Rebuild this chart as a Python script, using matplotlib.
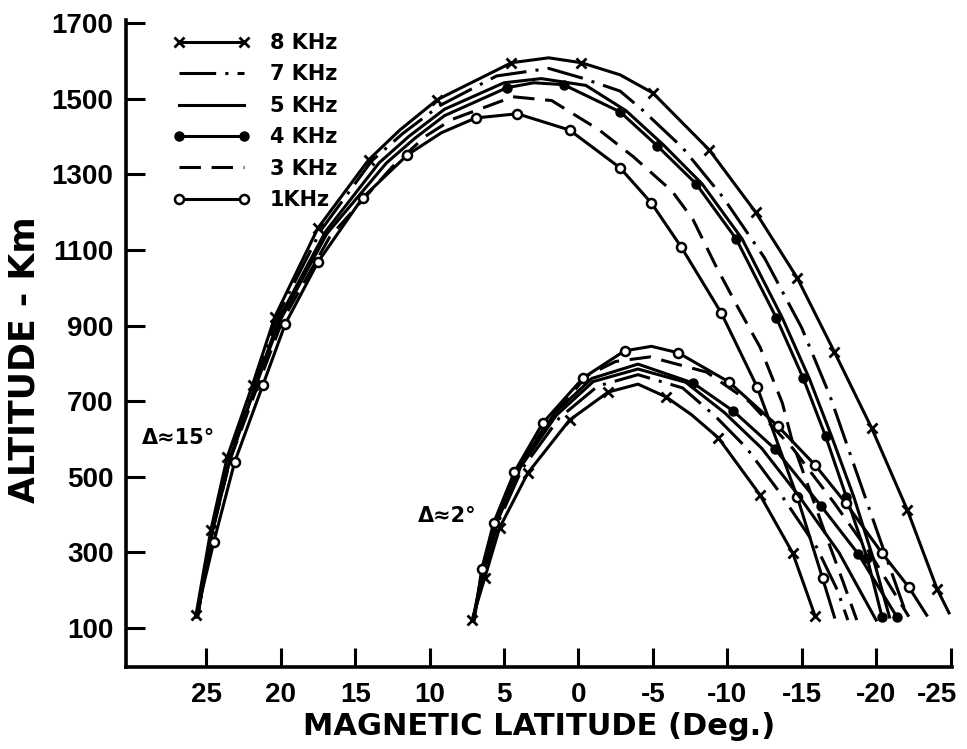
import matplotlib.pyplot as plt
from matplotlib.lines import Line2D
from matplotlib.transforms import ScaledTranslation

plt.rcParams['axes.unicode_minus'] = False

# ---- Δ≈15° family (big arcs) : magnetic latitude (deg), altitude (km)
big8_lat = [25.7, 24.7, 23.6, 21.9, 20.4, 17.5, 14.1, 12.0, 9.5, 4.5, 2.0, -0.2, -2.8, -5.0,
            -8.8, -11.9, -14.7, -17.2, -19.7, -22.1, -24.1, -24.9]
big8_alt = [134, 359, 552, 743, 923, 1158, 1338, 1417, 1497, 1595, 1608, 1595, 1563, 1515,
            1364, 1200, 1026, 830, 629, 412, 203, 140]
big8_mk = [0, 1, 2, 3, 4, 5, 6, 8, 9, 11, 13, 14, 15, 16, 17, 18, 19, 20]

big7_lat = [25.6, 24.6, 23.5, 21.8, 20.3, 17.3, 13.9, 11.8, 9.3, 5.5, 2.0, -0.2, -2.8, -4.3,
            -7.0, -9.7, -12.5, -15.0, -16.9, -18.4, -20.2, -22.0]
big7_alt = [132, 358, 550, 741, 920, 1152, 1335, 1408, 1482, 1560, 1580, 1555, 1520, 1470,
            1370, 1240, 1079, 894, 714, 544, 341, 140]

big5_lat = [25.6, 24.6, 23.4, 21.7, 20.1, 17.0, 13.4, 11.4, 9.0, 5.0, 2.5, -0.5, -3.2, -5.7,
            -8.3, -11.0, -13.7, -15.5, -17.0, -18.5, -19.8, -20.9]
big5_alt = [130, 358, 550, 741, 920, 1148, 1330, 1400, 1472, 1542, 1553, 1535, 1468, 1378,
            1275, 1129, 920, 761, 608, 447, 285, 129]

big4_lat = [25.6, 24.6, 23.4, 21.7, 20.0, 16.9, 12.9, 11.0, 9.0, 4.8, 3.0, 1.0, -2.8, -5.3,
            -7.9, -10.6, -13.3, -15.1, -16.6, -18.0, -19.4, -20.4]
big4_alt = [130, 356, 548, 739, 917, 1143, 1330, 1395, 1455, 1529, 1542, 1537, 1465, 1375,
            1275, 1129, 920, 761, 608, 447, 285, 129]
big4_mk = [9, 11, 12, 13, 14, 15, 16, 17, 18, 19, 20, 21]

big3_lat = [25.6, 24.6, 23.4, 21.6, 19.9, 16.7, 12.5, 10.3, 8.5, 4.4, 1.8, -1.4, -3.7, -6.3,
            -7.7, -9.2, -10.7, -12.2, -13.7, -14.4, -16.5, -17.8, -18.7]
big3_alt = [128, 353, 546, 736, 912, 1135, 1320, 1400, 1445, 1505, 1495, 1417, 1346, 1255,
            1180, 1060, 949, 843, 695, 589, 359, 220, 121]

big1_lat = [25.7, 24.5, 23.1, 21.2, 19.7, 17.5, 14.5, 11.5, 9.2, 6.9, 4.1, 0.6, -2.8, -4.9,
            -6.9, -9.6, -12.0, -14.7, -16.4, -17.2]
big1_alt = [129, 328, 539, 743, 904, 1068, 1238, 1351, 1410, 1449, 1460, 1417, 1317, 1224,
            1108, 933, 738, 447, 232, 129]
big1_mk = [1, 2, 3, 4, 5, 6, 7, 9, 10, 11, 12, 13, 14, 15, 16, 17, 18]

# ---- Δ≈2° family (small arcs)
sm8_lat = [7.15, 6.3, 5.3, 3.4, 0.6, -2.0, -4.0, -5.9, -7.6, -9.4, -12.2, -14.4, -15.9]
sm8_alt = [121, 232, 365, 510, 650, 724, 745, 711, 664, 603, 452, 298, 132]
sm8_mk = [0, 1, 2, 3, 4, 5, 7, 9, 10, 11, 12]

sm7_lat = [7.1, 6.35, 5.45, 3.8, 1.3, -1.3, -4.0, -7.0, -9.2, -11.3, -13.4, -16.0, -17.4, -18.1]
sm7_alt = [121, 240, 375, 520, 655, 740, 770, 735, 660, 576, 465, 314, 200, 121]

sm5_lat = [7.1, 6.4, 5.5, 3.9, 1.5, -1.0, -4.0, -7.2, -9.8, -12.3, -14.8, -17.5, -20.0]
sm5_alt = [121, 245, 378, 525, 662, 752, 785, 750, 670, 576, 450, 300, 121]

sm4_lat = [7.1, 6.45, 5.55, 4.0, 1.6, -0.9, -4.0, -7.7, -10.4, -13.2, -16.3, -18.8, -21.4]
sm4_alt = [121, 250, 380, 528, 668, 760, 798, 748, 674, 574, 423, 296, 129]
sm4_mk = [7, 8, 9, 10, 11, 12]

sm3_lat = [7.05, 6.45, 5.6, 4.1, 2.0, -0.6, -2.5, -4.8, -8.6, -11.5, -14.4, -17.2, -19.6, -22.2]
sm3_alt = [121, 252, 380, 520, 650, 768, 805, 817, 777, 698, 575, 430, 297, 130]

sm1_lat = [7.0, 6.5, 5.7, 4.3, 2.4, -0.3, -3.1, -4.9, -6.7, -10.1, -13.4, -15.9, -17.95,
           -20.4, -22.2, -23.4]
sm1_alt = [121, 256, 378, 513, 642, 761, 833, 845, 828, 751, 634, 531, 431, 298, 208, 134]
sm1_mk = [1, 2, 3, 4, 5, 6, 8, 9, 10, 11, 12, 13, 14]

labels = ['8 KHz', '7 KHz', '5 KHz', '4 KHz', '3 KHz', '1KHz']
x_ticks = [25, 20, 15, 10, 5, 0, -5, -10, -15, -20, -25]
y_ticks = [100, 300, 500, 700, 900, 1100, 1300, 1500, 1700]

lw = 2.2
dashed = (0, (7, 3.5))
dashdot = (0, (12, 3, 1, 3))
styles = {
    '8': dict(ls='-', marker='x', ms=7, mew=2.0, mfc='black'),
    '7': dict(ls=dashdot, marker=None),
    '5': dict(ls='-', marker=None),
    '4': dict(ls='-', marker='o', ms=6.5, mfc='black', mew=1),
    '3': dict(ls=dashed, marker=None),
    '1': dict(ls='-', marker='o', ms=6.5, mfc='white', mew=1.8),
}

fig = plt.figure(figsize=(9.67, 7.49), dpi=100)
ax = fig.add_axes([0.1303, 0.1095, 0.8542, 0.8638])


def draw(lat, alt, key, mk=None):
    st = dict(styles[key])
    ax.plot(lat, alt, color='black', lw=lw, linestyle=st.pop('ls'),
            markevery=mk if st.get('marker') else None, **st)


draw(big8_lat, big8_alt, '8', big8_mk)
draw(big7_lat, big7_alt, '7')
draw(big5_lat, big5_alt, '5')
draw(big4_lat, big4_alt, '4', big4_mk)
draw(big3_lat, big3_alt, '3')
draw(big1_lat, big1_alt, '1', big1_mk)

draw(sm8_lat, sm8_alt, '8', sm8_mk)
draw(sm7_lat, sm7_alt, '7')
draw(sm5_lat, sm5_alt, '5')
draw(sm4_lat, sm4_alt, '4', sm4_mk)
draw(sm3_lat, sm3_alt, '3')
draw(sm1_lat, sm1_alt, '1', sm1_mk)

# legend proxies (markers at both ends)
handles = []
for key in ['8', '7', '5', '4', '3', '1']:
    st = dict(styles[key])
    handles.append(Line2D([0, 1], [0, 1], color='black', lw=lw, linestyle=st.pop('ls'), **st))
leg = ax.legend(handles, labels, loc='upper left', bbox_to_anchor=(0.057, 0.980),
                frameon=False, numpoints=2, handlelength=3.7, handletextpad=0.95,
                labelspacing=0.55, borderpad=0, borderaxespad=0,
                prop=dict(family='DejaVu Sans', weight='bold', size=15))

ax.text(26.9, 602, 'Δ≈15°', fontsize=15, fontweight='bold', ha='center', va='center')
ax.text(8.8, 396, 'Δ≈2°', fontsize=15, fontweight='bold', ha='center', va='center')

ax.set_xlim(30.4, -25.1)
ax.set_ylim(-3, 1708)
ax.set_xticks(x_ticks)
ax.set_xticklabels([str(v) for v in x_ticks])
ax.set_yticks(y_ticks)
ax.set_yticklabels([str(v) for v in y_ticks])

ax.tick_params(axis='both', direction='in', length=14, width=2.2)
ax.tick_params(axis='x', pad=11)
ax.tick_params(axis='y', pad=9)

tick_font = ['Liberation Sans', 'DejaVu Sans']
for lab in ax.get_xticklabels() + ax.get_yticklabels():
    lab.set_family(tick_font)
    lab.set_fontweight('bold')
    lab.set_fontsize(20)
# last x label sits a little left of its tick in the original
last = ax.get_xticklabels()[-1]
last.set_transform(last.get_transform() + ScaledTranslation(-14 / 100, 0, fig.dpi_scale_trans))

for side in ['top', 'right']:
    ax.spines[side].set_visible(False)
for side in ['left', 'bottom']:
    ax.spines[side].set_linewidth(2.6)

ax.set_xlabel('MAGNETIC LATITUDE (Deg.)', fontsize=22, fontweight='bold', labelpad=3)
ax.set_ylabel('ALTITUDE - Km', fontsize=25, fontweight='bold')
ax.yaxis.set_label_coords(-0.102, 0.475)

fig.savefig('out.png', dpi=100)
